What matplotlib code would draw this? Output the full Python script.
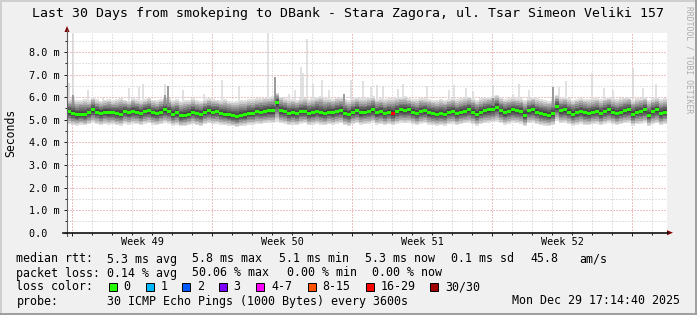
import numpy as np
import matplotlib
matplotlib.use("Agg")
import matplotlib.pyplot as plt
from matplotlib.lines import Line2D
from matplotlib.patches import Polygon, Rectangle

plt.rcParams["font.family"] = "DejaVu Sans Mono"

# -- data (30 days, 150 slots of 4.8 h) --
median_rtt = [
    5.36, 5.28, 5.21, 5.25, 5.21, 5.31, 5.43, 5.34, 5.28, 5.34,
    5.31, 5.31, 5.28, 5.25, 5.36, 5.31, 5.37, 5.34, 5.28, 5.37,
    5.40, 5.31, 5.28, 5.34, 5.43, 5.37, 5.25, 5.31, 5.17, 5.20,
    5.25, 5.34, 5.28, 5.22, 5.34, 5.40, 5.34, 5.37, 5.28, 5.25,
    5.21, 5.17, 5.14, 5.20, 5.21, 5.28, 5.28, 5.36, 5.34, 5.37,
    5.40, 5.40, 5.78, 5.40, 5.36, 5.28, 5.31, 5.28, 5.36, 5.37,
    5.28, 5.31, 5.36, 5.31, 5.28, 5.34, 5.31, 5.37, 5.40, 5.28,
    5.22, 5.34, 5.40, 5.31, 5.34, 5.37, 5.43, 5.31, 5.36, 5.28,
    5.34, 5.28, 5.37, 5.43, 5.40, 5.43, 5.34, 5.28, 5.37, 5.40,
    5.31, 5.28, 5.25, 5.28, 5.25, 5.34, 5.37, 5.28, 5.34, 5.37,
    5.43, 5.34, 5.25, 5.34, 5.40, 5.43, 5.46, 5.55, 5.40, 5.31,
    5.37, 5.43, 5.40, 5.37, 5.20, 5.40, 5.43, 5.34, 5.28, 5.25,
    5.20, 5.28, 5.58, 5.40, 5.43, 5.34, 5.25, 5.31, 5.37, 5.31,
    5.28, 5.34, 5.37, 5.28, 5.37, 5.43, 5.34, 5.28, 5.34, 5.40,
    5.43, 5.25, 5.34, 5.37, 5.43, 5.20, 5.37, 5.43, 5.28, 5.34,
]
smoke_hi = [
    5.90, 5.95, 5.85, 5.88, 5.92, 5.86, 6.00, 5.90, 5.84, 5.88,
    5.92, 5.86, 5.90, 5.95, 5.88, 5.84, 5.96, 5.90, 5.86, 5.92,
    5.98, 5.88, 5.85, 5.92, 6.02, 5.94, 5.86, 5.90, 5.82, 5.86,
    5.88, 5.94, 5.86, 5.84, 5.90, 5.96, 5.92, 5.88, 5.86, 5.90,
    5.84, 5.80, 5.82, 5.86, 5.88, 5.92, 5.90, 5.94, 5.96, 5.98,
    6.00, 6.05, 6.20, 6.02, 5.96, 5.90, 5.92, 5.88, 5.94, 5.98,
    5.92, 5.96, 6.02, 6.05, 5.94, 5.96, 5.92, 5.98, 6.00, 5.92,
    5.86, 5.94, 6.00, 5.96, 5.94, 5.98, 6.05, 5.92, 5.96, 5.90,
    5.94, 5.96, 5.98, 6.00, 6.04, 5.96, 5.92, 5.90, 5.96, 5.94,
    5.92, 5.88, 5.86, 5.90, 5.88, 5.92, 5.96, 5.90, 5.94, 5.98,
    6.02, 5.96, 5.88, 5.94, 5.98, 6.00, 6.04, 6.10, 5.98, 5.92,
    5.94, 5.98, 5.96, 5.94, 5.88, 5.96, 6.00, 5.94, 5.90, 5.86,
    5.84, 5.90, 6.10, 5.98, 6.00, 5.94, 5.88, 5.92, 5.96, 5.92,
    5.90, 5.94, 5.96, 5.90, 5.96, 6.00, 5.94, 5.90, 5.94, 5.98,
    6.00, 5.88, 5.94, 5.96, 6.00, 5.86, 5.94, 5.98, 5.90, 5.94,
]
smoke_lo = [
    4.80, 4.76, 4.74, 4.78, 4.75, 4.80, 4.86, 4.80, 4.76, 4.80,
    4.78, 4.80, 4.76, 4.74, 4.82, 4.78, 4.82, 4.80, 4.76, 4.82,
    4.84, 4.78, 4.76, 4.80, 4.86, 4.82, 4.74, 4.78, 4.70, 4.72,
    4.76, 4.80, 4.76, 4.72, 4.80, 4.84, 4.80, 4.82, 4.78, 4.76,
    4.74, 4.70, 4.68, 4.72, 4.74, 4.78, 4.78, 4.82, 4.80, 4.84,
    4.86, 4.84, 4.90, 4.84, 4.82, 4.76, 4.78, 4.76, 4.82, 4.84,
    4.76, 4.78, 4.82, 4.78, 4.76, 4.80, 4.78, 4.82, 4.84, 4.76,
    4.72, 4.80, 4.84, 4.78, 4.80, 4.82, 4.86, 4.78, 4.80, 4.76,
    4.80, 4.76, 4.82, 4.86, 4.84, 4.86, 4.80, 4.76, 4.82, 4.84,
    4.78, 4.76, 4.74, 4.76, 4.74, 4.80, 4.82, 4.76, 4.80, 4.84,
    4.86, 4.80, 4.74, 4.80, 4.84, 4.86, 4.88, 4.92, 4.84, 4.78,
    4.82, 4.86, 4.84, 4.82, 4.72, 4.84, 4.86, 4.80, 4.76, 4.74,
    4.72, 4.76, 4.96, 4.84, 4.86, 4.80, 4.74, 4.78, 4.82, 4.76,
    4.76, 4.80, 4.82, 4.76, 4.82, 4.86, 4.80, 4.76, 4.80, 4.84,
    4.86, 4.74, 4.80, 4.82, 4.86, 4.72, 4.80, 4.84, 4.76, 4.80,
]
loss_slot = [81]
loss_slot_pings = [16]

# single outlying pings (day, rtt in ms)
spike_day = [0.12, 0.30, 1.05, 1.80, 3.10, 3.60, 3.80, 4.90, 5.80, 6.85,
             7.10, 7.75, 8.60, 10.05, 11.10, 11.40, 11.70, 11.80, 12.00, 12.30,
             12.75, 13.10, 14.20, 14.80, 15.20, 15.50, 15.80, 16.55, 16.80, 18.00,
             19.10, 19.35, 19.95, 20.30, 21.30, 22.30, 22.60, 23.10, 24.60, 24.95,
             26.25, 26.85, 27.30, 28.30, 28.80, 29.45]
spike_top = [6.61, 8.85, 6.31, 5.95, 6.40, 6.45, 6.60, 6.60, 6.30, 6.15,
             6.00, 6.75, 6.50, 8.85, 6.15, 6.30, 7.32, 7.05, 8.57, 6.60,
             6.75, 6.30, 6.75, 6.70, 6.45, 6.55, 6.50, 6.35, 6.60, 6.50,
             6.30, 6.55, 6.40, 6.25, 6.55, 6.15, 6.60, 6.30, 6.45, 6.70,
             7.05, 6.40, 6.30, 7.30, 6.40, 6.60]
dark_spike_day = [0.30, 4.90, 5.05, 10.40, 13.85, 21.30, 24.30]
dark_spike_top = [6.10, 6.10, 6.50, 6.90, 6.15, 5.95, 6.45]

week_start = [0.25, 7.25, 14.25, 21.25, 28.25]
week_names = ["Week 49", "Week 50", "Week 51", "Week 52"]
y_ticks = [0, 1, 2, 3, 4, 5, 6, 7, 8]
y_labels = ["0.0  ", "1.0 m", "2.0 m", "3.0 m", "4.0 m",
            "5.0 m", "6.0 m", "7.0 m", "8.0 m"]

loss_labels = ["0", "1", "2", "3", "4-7", "8-15", "16-29", "30/30"]
loss_upper = [0, 1, 2, 3, 7, 15, 29, 30]
loss_colors = ["#26ff00", "#00b8ff", "#0059ff", "#7e00ff",
               "#ff00ff", "#ff5500", "#ff0000", "#a10000"]

W, H = 697, 315
Y_TOP = 8.85


def fx(px):
    return px / W


def fy(py):
    return 1 - py / H


fig = plt.figure(figsize=(W / 100, H / 100), dpi=100, facecolor="#f0f0f0")
ax = fig.add_axes([fx(67), fy(232.7), 600 / W, 200 / H])
ax.set_facecolor("white")
ax.set_xlim(0, 30)
ax.set_ylim(0, Y_TOP)
for s in ax.spines.values():
    s.set_visible(False)

# -- grid (dotted) --
dot = (0, (1, 2))
gkw = dict(lw=0.72, linestyles=dot, zorder=1)
days = np.arange(week_start[0], 30, 1.0)
minor_days = [d for d in days if d not in week_start]
ax.vlines(minor_days, 0, Y_TOP, colors="#c4c4c4", **gkw)
ax.vlines(week_start, 0, Y_TOP, colors="#d98484", **gkw)
half = np.arange(0.5, Y_TOP, 1.0)
ax.hlines(half, 0, 30, colors="#c4c4c4", **gkw)
ax.hlines(y_ticks[1:], 0, 30, colors="#d98484", **gkw)

# -- smoke --
med = np.array(median_rtt)
lo = np.array(smoke_lo)
hi = np.array(smoke_hi)
edges = np.linspace(0, 30, len(med) + 1)

ax.vlines(spike_day, 5.7, spike_top, colors="#d8d8d8", lw=1.1, zorder=2)

layers = [(1.0, "#e0e0e0"), (0.87, "#c8c8c8"), (0.74, "#adadad"), (0.61, "#939393"),
          (0.48, "#7a7a7a"), (0.36, "#626262"), (0.24, "#4e4e4e"), (0.13, "#404040")]
for f, c in layers:
    lower = med - f * (med - lo)
    upper = med + f * (hi - med)
    ax.fill_between(edges, np.append(lower, lower[-1]), np.append(upper, upper[-1]),
                    step="post", color=c, lw=0, zorder=3)

ax.vlines(dark_spike_day, 5.6, dark_spike_top, colors="#8a8a8a", lw=1.2, zorder=3)

# median drawn as small blocks, coloured by loss
seg_col = [loss_colors[0]] * len(med)
for i, n in zip(loss_slot, loss_slot_pings):
    seg_col[i] = loss_colors[next(j for j, u in enumerate(loss_upper) if n <= u)]
sw = 0.066
ax.bar(edges[:-1], 2 * sw, width=edges[1] - edges[0], bottom=med - sw, align="edge",
       color=seg_col, lw=0, zorder=5)

# -- ticks --
ax.set_yticks(y_ticks, y_labels)
ax.set_yticks(half, minor=True)
ax.set_xticks(week_start, [])
ax.set_xticks(minor_days, minor=True)
ax.tick_params(which="major", direction="out", length=2.2, width=0.72,
               color="#202020", pad=3, labelsize=7.3)
ax.tick_params(which="minor", direction="out", length=1.2, width=0.72, color="#202020")

for i, name in enumerate(week_names):
    c = (week_start[i] + week_start[i + 1]) / 2
    fig.text(fx(67 + 20 * c), fy(242), name, ha="center", va="center", fontsize=7.3)

# -- axes with arrows --
arrow_c = "#7f0000"
fig.add_artist(Line2D([fx(67), fx(67)], [fy(236), fy(30)], color="#606060", lw=0.8))
fig.add_artist(Line2D([fx(63), fx(668)], [fy(232.7), fy(232.7)], color="#101010", lw=1.2))
fig.add_artist(Polygon([(fx(67), fy(26)), (fx(64.5), fy(32)), (fx(69.5), fy(32))],
                       closed=True, color=arrow_c, lw=0))
fig.add_artist(Polygon([(fx(673), fy(232.7)), (fx(667), fy(230.2)), (fx(667), fy(235.2))],
                       closed=True, color=arrow_c, lw=0))

# -- texts --
fig.text(0.5, fy(14), "Last 30 Days from smokeping to DBank - Stara Zagora, ul. Tsar Simeon Veliki 157",
         ha="center", va="center", fontsize=9.5)
fig.text(fx(10.5), fy(132.7), "Seconds", rotation=90, ha="center", va="center", fontsize=8.3)
fig.text(fx(689), fy(60), "RRDTOOL / TOBI OETIKER", rotation=270, ha="center", va="center",
         fontsize=5.8, color="#acacac")

fs = 8.4
row1 = [(16.4, "median rtt:"), (107, "5.3 ms avg"), (192.5, "5.8 ms max"), (279, "5.1 ms min"),
        (365, "5.3 ms now"), (451, "0.1 ms sd"), (530, "45.8"), (579, "am/s")]
row2 = [(16.4, "packet loss:"), (107, "0.14 % avg"), (192.5, "50.06 % max"),
        (286.7, "0.00 % min"), (372.4, "0.00 % now")]
for x, t in row1:
    fig.text(fx(x), fy(259), t, ha="left", va="center", fontsize=fs)
for x, t in row2:
    fig.text(fx(x), fy(273), t, ha="left", va="center", fontsize=fs)

fig.text(fx(16.4), fy(287), "loss color:", ha="left", va="center", fontsize=fs)
swatch_x = [108.5, 145.5, 182, 218.5, 256, 307.5, 365.5, 430]
for sx, lab, col in zip(swatch_x, loss_labels, loss_colors):
    fig.add_artist(Rectangle((fx(sx), fy(291)), 8 / W, 8 / H, facecolor=col,
                             edgecolor="black", lw=0.7))
    fig.text(fx(sx + 15), fy(287), lab, ha="left", va="center", fontsize=fs)

fig.text(fx(16.4), fy(301), "probe:", ha="left", va="center", fontsize=fs)
fig.text(fx(107), fy(301), "30 ICMP Echo Pings (1000 Bytes) every 3600s",
         ha="left", va="center", fontsize=fs)
fig.text(fx(680), fy(301), "Mon Dec 29 17:14:40 2025", ha="right", va="center", fontsize=fs)

# 3d frame
fig.add_artist(Line2D([0, 1], [fy(0.5), fy(0.5)], color="#cfcfcf", lw=1.4))
fig.add_artist(Line2D([fx(0.5), fx(0.5)], [0, 1], color="#cfcfcf", lw=1.4))
fig.add_artist(Line2D([0, 1], [fy(314), fy(314)], color="#9e9e9e", lw=1.4))
fig.add_artist(Line2D([fx(696), fx(696)], [0, 1], color="#9e9e9e", lw=1.4))

fig.savefig("out.png", dpi=100, facecolor=fig.get_facecolor())
